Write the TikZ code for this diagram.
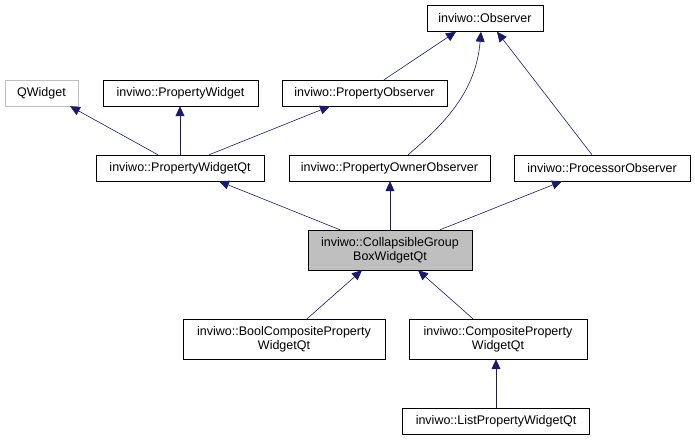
\documentclass[tikz,border=0pt]{standalone}
\usepackage{fontspec}
\setmainfont{Liberation Sans}
\usetikzlibrary{arrows.meta}

\definecolor{edgeblue}{RGB}{25,25,112}
\definecolor{boxgray}{RGB}{191,191,191}

\begin{document}
\begin{tikzpicture}[x=1pt, y=-1pt,
    cls/.style={draw=black, fill=white, minimum height=26pt, inner sep=0pt, align=center, font=\fontsize{12.5}{14}\selectfont},
    twoline/.style={cls, minimum height=40pt},
    extern/.style={cls, draw=boxgray},
    current/.style={twoline, fill=boxgray},
    inherit/.style={draw=edgeblue, semithick, -{Triangle[length=10pt,width=9pt]}}]
    \useasboundingbox (0,0) rectangle (695,440);

    % top rows
    \node[cls, minimum width=116pt] (observer) at (485,18.5) {inviwo::Observer};
    \node[extern, minimum width=73pt] (qwidget) at (41.5,93) {QWidget};
    \node[cls, minimum width=155pt] (propwidget) at (180.5,93) {inviwo::PropertyWidget};
    \node[cls, minimum width=165pt] (propobserver) at (364.5,93) {inviwo::PropertyObserver};

    % middle row
    \node[cls, minimum width=168pt] (propwidgetqt) at (180,168) {inviwo::PropertyWidgetQt};
    \node[cls, minimum width=201pt] (ownerobserver) at (389.5,168) {inviwo::PropertyOwnerObserver};
    \node[cls, minimum width=176pt] (procobserver) at (602,168) {inviwo::ProcessorObserver};

    % the class itself and its children
    \node[current, minimum width=164pt] (groupbox) at (390,250) {inviwo::CollapsibleGroup\\BoxWidgetQt};
    \node[twoline, minimum width=202pt] (boolcomp) at (284,339) {inviwo::BoolCompositeProperty\\WidgetQt};
    \node[twoline, minimum width=178pt] (composite) at (498,339) {inviwo::CompositeProperty\\WidgetQt};
    \node[cls, minimum width=187pt] (listprop) at (496,421) {inviwo::ListPropertyWidgetQt};

    % inheritance
    \draw[inherit] ([xshift=19.5pt]propobserver.north) -- ([xshift=-29pt]observer.south);
    \draw[inherit] ([xshift=18.5pt]ownerobserver.north) to[out=40, in=-95] ([xshift=-4pt]observer.south);
    \draw[inherit] ([xshift=-10pt]procobserver.north) -- ([xshift=12pt]observer.south);
    \draw[inherit] ([xshift=-22pt]propwidgetqt.north) -- ([xshift=28.5pt]qwidget.south);
    \draw[inherit] (propwidgetqt.north) -- (propwidget.south -| propwidgetqt.north);
    \draw[inherit] ([xshift=29pt]propwidgetqt.north) -- ([xshift=-34.5pt]propobserver.south);
    \draw[inherit] ([xshift=-50pt]groupbox.north) -- ([xshift=39pt]propwidgetqt.south);
    \draw[inherit] (groupbox.north) -- (ownerobserver.south -| groupbox.north);
    \draw[inherit] ([xshift=50pt]groupbox.north) -- ([xshift=-40pt]procobserver.south);
    \draw[inherit] ([xshift=23pt]boolcomp.north) -- ([xshift=-28pt]groupbox.south);
    \draw[inherit] ([xshift=-25pt]composite.north) -- ([xshift=28pt]groupbox.south);
    \draw[inherit] (listprop.north) -- (composite.south -| listprop.north);
\end{tikzpicture}
\end{document}
